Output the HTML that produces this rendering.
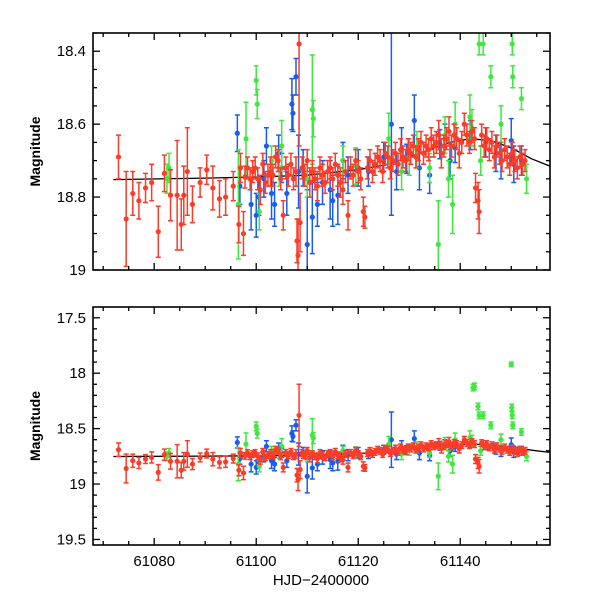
<!DOCTYPE html>
<html><head><meta charset="utf-8"><style>
body{margin:0;background:#fff;}
svg text{font-family:"Liberation Sans",Helvetica,sans-serif;}
</style></head><body>
<svg id="c" width="600" height="600" viewBox="0 0 600 600" xmlns="http://www.w3.org/2000/svg">
<defs>
<clipPath id="cp1"><rect x="93" y="33" width="457" height="237"/></clipPath>
<clipPath id="cp2"><rect x="93" y="307" width="457" height="238"/></clipPath>
</defs>
</svg>
<script>
// ---- data ----
const redT=[61073.0,61074.5,61075.8,61077.0,61078.3,61079.5,61080.8,61082.0,61083.2,61084.5,61085.3,61085.8,61086.5,61087.5,61089.0,61090.3,61091.5,61092.8,61094.0,61095.5,61096.6,61096.9,61097.5,61097.8,61098.3,61098.8,61099.3,61099.8,61100.3,61100.8,61101.3,61101.8,61102.3,61102.8,61103.3,61103.8,61104.3,61104.8,61105.3,61105.8,61106.3,61106.8,61107.3,61107.8,61108.0,61108.2,61108.4,61108.6,61109.0,61109.5,61110.0,61110.5,61111.0,61111.5,61112.0,61112.5,61113.0,61113.5,61114.0,61114.5,61115.0,61115.5,61116.0,61116.5,61117.0,61117.5,61118.0,61118.5,61119.0,61119.5,61120.0,61120.5,61121.0,61121.3,61121.8,61122.3,61122.8,61123.3,61123.8,61124.3,61124.8,61125.3,61125.8,61126.3,61126.8,61127.3,61127.8,61128.3,61128.8,61129.3,61129.8,61130.3,61130.8,61131.3,61131.8,61132.3,61132.8,61133.3,61133.8,61134.3,61134.8,61135.3,61135.8,61136.3,61136.8,61137.3,61137.8,61138.3,61138.8,61139.3,61139.8,61140.3,61140.8,61141.3,61141.8,61142.3,61142.8,61143.0,61143.5,61143.7,61144.2,61144.7,61145.2,61145.7,61146.2,61146.7,61147.2,61147.7,61148.2,61148.7,61149.2,61149.7,61150.2,61150.7,61151.2,61151.7,61152.2,61152.7];
const redM=[18.69,18.86,18.79,18.81,18.775,18.76,18.895,18.735,18.795,18.795,18.875,18.795,18.73,18.82,18.76,18.725,18.775,18.805,18.80,18.77,18.875,18.72,18.90,18.745,18.72,18.75,18.73,18.72,18.75,18.78,18.71,18.76,18.74,18.73,18.74,18.69,18.70,18.75,18.85,18.72,18.74,18.71,18.75,18.73,18.92,18.96,18.38,18.87,18.72,18.74,18.70,18.76,18.73,18.75,18.77,18.72,18.74,18.76,18.73,18.72,18.75,18.71,18.74,18.76,18.78,18.73,18.85,18.72,18.74,18.70,18.73,18.75,18.84,18.855,18.72,18.70,18.73,18.71,18.69,18.70,18.73,18.68,18.69,18.72,18.70,18.68,18.71,18.67,18.69,18.70,18.67,18.68,18.66,18.69,18.67,18.65,18.68,18.66,18.67,18.64,18.66,18.65,18.63,18.68,18.66,18.64,18.62,18.66,18.63,18.64,18.68,18.65,18.60,18.63,18.65,18.62,18.64,18.775,18.81,18.84,18.63,18.66,18.64,18.67,18.65,18.69,18.66,18.68,18.70,18.67,18.69,18.71,18.68,18.70,18.72,18.69,18.71,18.70];
const redE=[0.06,0.13,0.06,0.05,0.04,0.05,0.07,0.05,0.07,0.15,0.07,0.08,0.12,0.05,0.04,0.04,0.06,0.05,0.05,0.04,0.05,0.04,0.06,0.03,0.03,0.03,0.03,0.03,0.03,0.04,0.03,0.03,0.03,0.04,0.03,0.03,0.03,0.03,0.04,0.03,0.03,0.03,0.03,0.04,0.06,0.10,0.28,0.08,0.03,0.03,0.03,0.04,0.03,0.03,0.04,0.03,0.03,0.03,0.03,0.03,0.03,0.03,0.03,0.04,0.04,0.03,0.04,0.03,0.03,0.03,0.03,0.03,0.04,0.03,0.03,0.03,0.03,0.03,0.03,0.03,0.03,0.03,0.03,0.03,0.03,0.03,0.03,0.03,0.03,0.03,0.03,0.03,0.03,0.03,0.03,0.03,0.03,0.03,0.03,0.03,0.03,0.03,0.04,0.04,0.03,0.03,0.04,0.03,0.03,0.03,0.04,0.03,0.03,0.03,0.03,0.03,0.03,0.04,0.05,0.06,0.03,0.03,0.03,0.03,0.03,0.03,0.03,0.03,0.03,0.03,0.03,0.03,0.03,0.03,0.03,0.03,0.03,0.03];
const blueT=[61096.3,61096.8,61099.0,61100.0,61100.5,61101.5,61102.0,61103.0,61103.6,61104.4,61105.0,61106.0,61107.0,61107.2,61107.8,61108.3,61109.2,61110.0,61111.0,61112.0,61113.0,61114.5,61115.0,61116.0,61117.0,61118.0,61120.0,61122.0,61125.0,61126.5,61127.5,61128.5,61129.5,61131.0,61132.0,61134.0,61136.0,61137.0,61138.0,61139.0,61142.0,61145.0,61147.0,61148.0,61150.0,61150.5,61152.0];
const blueM=[18.625,18.77,18.82,18.85,18.80,18.75,18.66,18.79,18.82,18.68,18.72,18.79,18.545,18.57,18.47,18.73,18.72,18.93,18.855,18.82,18.76,18.78,18.81,18.795,18.70,18.74,18.72,18.73,18.69,18.60,18.73,18.67,18.695,18.59,18.72,18.74,18.655,18.64,18.70,18.665,18.63,18.65,18.68,18.70,18.645,18.71,18.70];
const blueE=[0.05,0.05,0.07,0.06,0.05,0.05,0.05,0.07,0.06,0.05,0.04,0.06,0.07,0.05,0.05,0.10,0.05,0.15,0.10,0.06,0.06,0.08,0.07,0.08,0.05,0.05,0.05,0.04,0.04,0.25,0.05,0.06,0.04,0.07,0.06,0.05,0.04,0.04,0.05,0.04,0.04,0.04,0.05,0.05,0.06,0.05,0.04];
const greenT=[61082.5,61082.9,61096.5,61098.0,61100.0,61100.2,61100.6,61103.0,61104.5,61105.0,61110.0,61111.0,61111.2,61117.0,61119.5,61126.0,61128.5,61130.0,61131.5,61134.0,61135.7,61137.0,61137.7,61138.5,61139.0,61141.9,61142.3,61142.5,61142.8,61143.5,61143.7,61144.0,61144.5,61146.0,61148.0,61150.0,61150.1,61150.2,61150.3,61152.0,61153.0];
const greenM=[18.75,18.72,18.82,18.64,18.48,18.545,18.84,18.70,18.72,18.66,18.75,18.56,18.585,18.70,18.715,18.64,18.73,18.69,18.67,18.72,18.93,18.63,18.75,18.82,18.60,18.58,18.61,18.13,18.12,18.30,18.38,18.70,18.38,18.47,18.60,17.92,18.31,18.38,18.47,18.53,18.75];
const greenE=[0.04,0.04,0.15,0.10,0.04,0.04,0.05,0.04,0.05,0.07,0.05,0.15,0.05,0.04,0.05,0.07,0.05,0.05,0.05,0.04,0.12,0.05,0.05,0.08,0.06,0.06,0.05,0.03,0.03,0.03,0.03,0.04,0.03,0.03,0.05,0.02,0.03,0.03,0.03,0.03,0.04];
const fitT=[61072,61090,61100,61110,61120,61126,61130,61134,61138,61142,61146,61150,61154,61157.6];
const fitM=[18.752,18.748,18.745,18.74,18.725,18.71,18.69,18.67,18.65,18.64,18.645,18.665,18.695,18.715];
const xTicks=[61080,61100,61120,61140];
const topYTicks=[18.4,18.6,18.8,19];
const botYTicks=[17.5,18,18.5,19,19.5];

const NS="http://www.w3.org/2000/svg";
const svg=document.getElementById('c');
const X0=93,X1=550,T0=61068,T1=61157.6;
const sx=t=>X0+(t-T0)/(T1-T0)*(X1-X0);
function mk(tag,attrs,parent){const e=document.createElementNS(NS,tag);for(const k in attrs)e.setAttribute(k,attrs[k]);(parent||svg).appendChild(e);return e;}

function panel(id,yTop,yBot,mTop,mBot,yTicks,minorStep,clip,showX){
  const sy=m=>yTop+(m-mTop)/(mBot-mTop)*(yBot-yTop);
  const g=mk('g',{});
  
  
  const pg=mk('g',{'clip-path':'url(#'+clip+')'},g);
  // fit line
  let d='';fitT.forEach((t,i)=>{d+=(i?'L':'M')+sx(t).toFixed(1)+' '+sy(fitM[i]).toFixed(1);});
  const fl=mk('path',{d:d,fill:'none',stroke:'#000','stroke-width':1.3},pg);
  
  
  function series(T,M,E,col,name){
    const sg=mk('g',{},pg);
    
    
    T.forEach((t,i)=>{
      const x=sx(t),y=sy(M[i]),y1=sy(M[i]-E[i]),y2=sy(M[i]+E[i]);
      mk('path',{d:`M${x} ${y1}V${y2}M${x-2.5} ${y1}H${x+2.5}M${x-2.5} ${y2}H${x+2.5}`,stroke:col,'stroke-width':1.5,fill:'none'},sg);
      const c=mk('circle',{cx:x,cy:y,r:2.6,fill:col},sg);
      
      
    });
  }
  series(blueT,blueM,blueE,'#1a5cf0','blue');
  series(greenT,greenM,greenE,'#3ee83e','green');
  series(redT,redM,redE,'#fa3c28','red');
  // frame
  const fr=mk('rect',{x:X0,y:yTop,width:X1-X0,height:yBot-yTop,fill:'none',stroke:'#000','stroke-width':1.6},g);
  
  
  // x ticks
  for(let t=61070;t<=61155;t+=5){
    const x=sx(t),L=(t%20===0)?7:4;
    mk('line',{x1:x,x2:x,y1:yBot,y2:yBot-L,stroke:'#000','stroke-width':1.3},g);
    mk('line',{x1:x,x2:x,y1:yTop,y2:yTop+L,stroke:'#000','stroke-width':1.3},g);
  }
  if(showX){xTicks.forEach(t=>{const tx=mk('text',{x:sx(t),y:yBot+21,'text-anchor':'middle','font-size':15},g);tx.textContent=t;
    
    });}
  // y ticks
  const n=Math.round((mBot-mTop)/minorStep);
  const start=Math.ceil(mTop/minorStep-1e-6)*minorStep;
  for(let m=start;m<=mBot+1e-6;m+=minorStep){
    const y=sy(m);const major=yTicks.some(v=>Math.abs(v-m)<1e-6);const L=major?7:4;
    mk('line',{x1:X0,x2:X0+L,y1:y,y2:y,stroke:'#000','stroke-width':1.3},g);
    mk('line',{x1:X1,x2:X1-L,y1:y,y2:y,stroke:'#000','stroke-width':1.3},g);
  }
  yTicks.forEach(v=>{const tx=mk('text',{x:X0-7,y:sy(v)+5,'text-anchor':'end','font-size':15},g);tx.textContent=String(v);
    
    });
  const yl=mk('text',{x:0,y:0,'text-anchor':'middle','font-size':14,'font-weight':'bold',transform:`translate(40,${(yTop+yBot)/2}) rotate(-90)`},g);
  yl.textContent='Magnitude';
  
  
}
panel('top-panel',33,270,18.35,19.0,topYTicks,0.05,'cp1',false);
panel('bottom-panel',307,545,17.403,19.55,botYTicks,0.1,'cp2',true);
const xl=mk('text',{x:321,y:585,'text-anchor':'middle','font-size':15});
xl.textContent='HJD\u22122400000';


</script>
</body></html>
